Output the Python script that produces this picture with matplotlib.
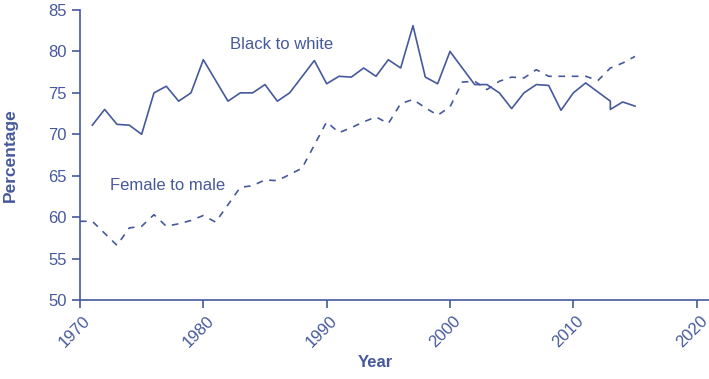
import matplotlib
matplotlib.use("Agg")
import matplotlib.pyplot as plt
from matplotlib.transforms import ScaledTranslation

# data
bw_years = [1971, 1972, 1973, 1974, 1975, 1976, 1977, 1978, 1979, 1980,
            1982, 1983, 1984, 1985, 1986, 1987, 1989, 1990, 1991, 1992,
            1993, 1994, 1995, 1996, 1997, 1998, 1999, 2000, 2002, 2003,
            2004, 2005, 2006, 2007, 2008, 2009, 2010, 2011, 2013, 2013,
            2014, 2015]
bw_values = [71.1, 73.0, 71.2, 71.1, 70.0, 75.0, 75.8, 74.0, 75.0, 79.0,
             74.0, 75.0, 75.0, 76.0, 74.0, 75.0, 78.9, 76.1, 77.0, 76.9,
             78.0, 77.0, 79.0, 78.0, 83.1, 76.9, 76.1, 80.0, 76.0, 76.0,
             75.0, 73.1, 75.0, 76.0, 75.9, 72.9, 75.0, 76.2, 74.0, 73.0,
             73.9, 73.4]

fm_years = [1970, 1971, 1973, 1974, 1975, 1976, 1977, 1978, 1979, 1980,
            1981, 1983, 1984, 1985, 1986, 1988, 1990, 1991, 1992, 1993,
            1994, 1995, 1996, 1997, 1998, 1999, 2000, 2001, 2002, 2003,
            2004, 2005, 2006, 2007, 2008, 2009, 2010, 2011, 2012, 2013,
            2014, 2015]
fm_values = [59.5, 59.5, 56.6, 58.7, 58.9, 60.3, 58.9, 59.2, 59.6, 60.2,
             59.4, 63.6, 63.8, 64.5, 64.4, 65.9, 71.5, 70.2, 70.8, 71.5,
             72.1, 71.3, 73.7, 74.2, 73.2, 72.3, 73.3, 76.3, 76.4, 75.4,
             76.4, 76.9, 76.8, 77.8, 77.0, 77.0, 77.0, 77.0, 76.5, 78.0,
             78.6, 79.4]

x_ticks = [1970, 1980, 1990, 2000, 2010, 2020]
y_ticks = [50, 55, 60, 65, 70, 75, 80, 85]

blue = "#46599c"
plt.rcParams['font.family'] = ['Liberation Sans', 'DejaVu Sans']

fig = plt.figure(figsize=(7.09, 3.79), dpi=100)
ax = fig.add_axes([0.1128, 0.2084, 0.8872, 0.7652])

ax.plot(bw_years, bw_values, color=blue, lw=1.2)
ax.plot(fm_years, fm_values, color=blue, lw=1.2, dashes=(4, 4))

ax.text(1982.2, 80.8, "Black to white", color=blue, fontsize=12, va="center")
ax.text(1972.4, 63.8, "Female to male", color=blue, fontsize=12, va="center")

ax.set_xlim(1970, 2021)
ax.set_ylim(50, 85)
ax.set_xticks(x_ticks)
ax.set_yticks(y_ticks)
ax.set_xticklabels([str(t) for t in x_ticks], rotation=45, ha="center",
                   va="top")

for side in ["top", "right"]:
    ax.spines[side].set_visible(False)
for side in ["left", "bottom"]:
    ax.spines[side].set_color(blue)
    ax.spines[side].set_linewidth(1.2)

ax.tick_params(colors=blue, labelcolor=blue, labelsize=12, length=6,
               width=1.2, direction="out")

# nudge the slanted year labels a little to the left, as in the original
shift = ScaledTranslation(-5 / 100, 0, fig.dpi_scale_trans)
for lab in ax.get_xticklabels():
    lab.set_transform(lab.get_transform() + shift)

ax.set_xlabel("Year", color=blue, fontsize=12, fontweight="bold")
ax.xaxis.set_label_coords(0.469, -0.19)
ax.set_ylabel("Percentage", color=blue, fontsize=12.5, fontweight="bold",
              labelpad=22)

fig.savefig("out.png", dpi=100)
